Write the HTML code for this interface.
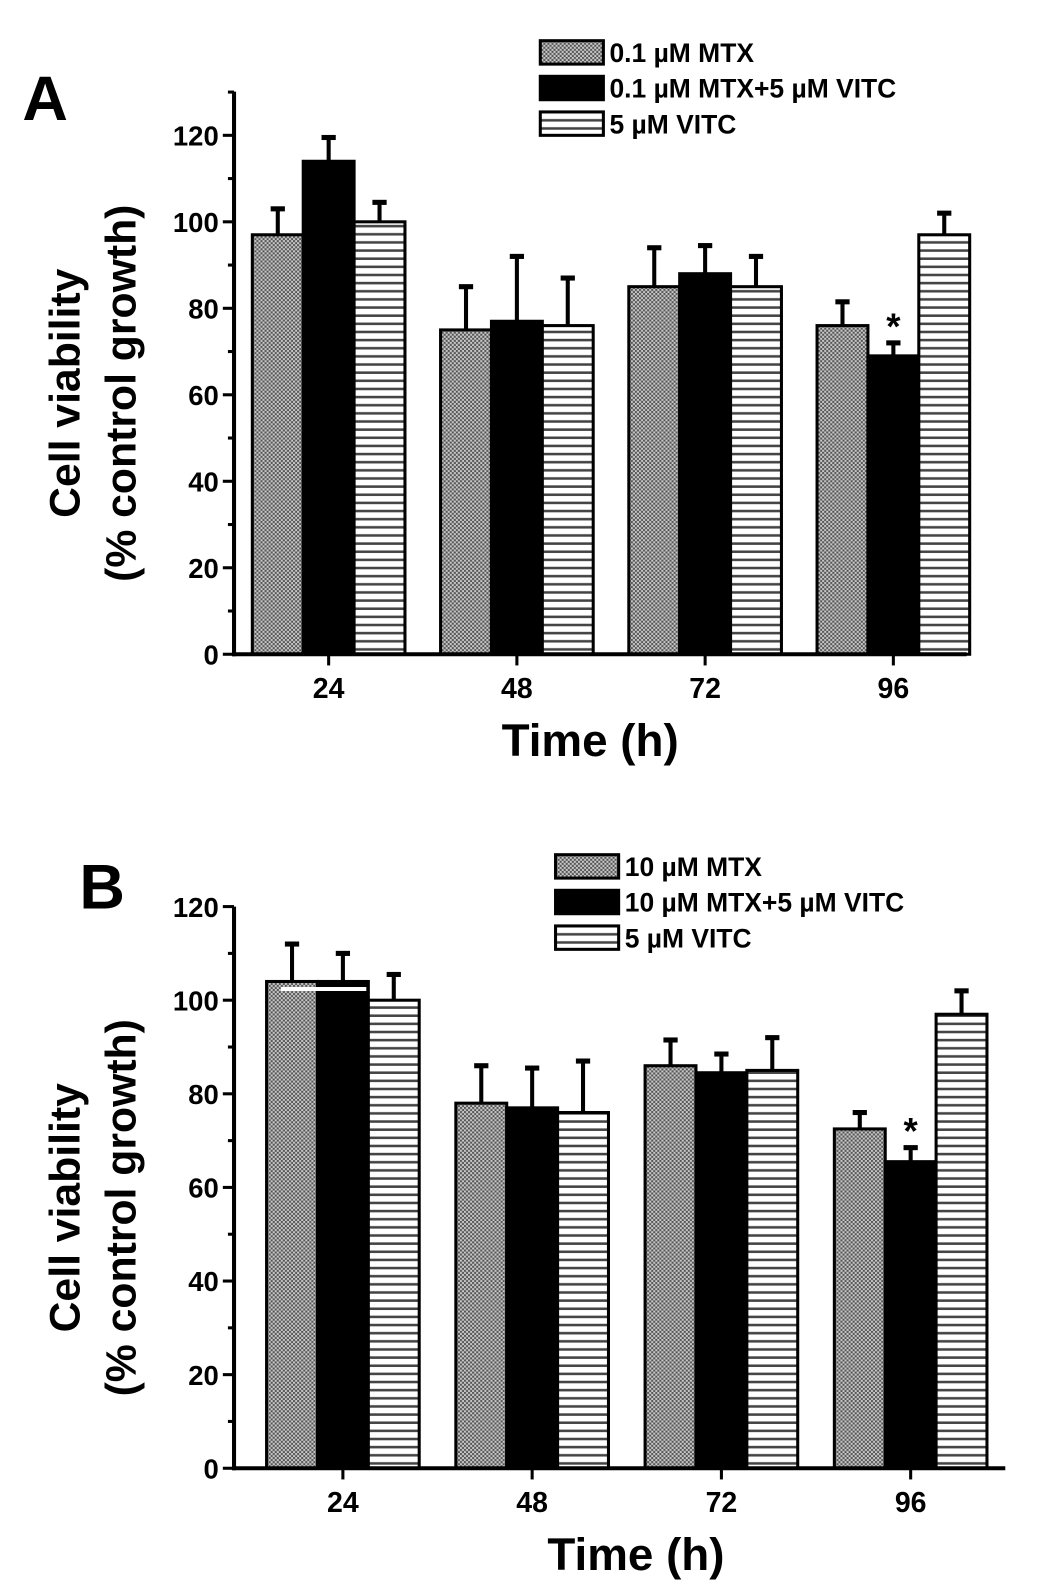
<!DOCTYPE html>
<html><head><meta charset="utf-8"><style>
body{margin:0;background:#fff}
svg{display:block;font-family:"Liberation Sans",Arial,sans-serif;font-weight:bold}
</style></head><body>
<svg id="chart" width="1042" height="1596" viewBox="0 0 1042 1596" xmlns="http://www.w3.org/2000/svg">
<defs>
<pattern id="dots" width="4" height="4" patternUnits="userSpaceOnUse"><rect width="4" height="4" fill="#c8c8c8"/><rect width="2" height="2" fill="#555"/><rect x="2" y="2" width="2" height="2" fill="#555"/></pattern>
<pattern id="stripes" width="8" height="8" patternUnits="userSpaceOnUse"><rect width="8" height="8" fill="#fff"/><rect y="5" width="8" height="2.5" fill="#444"/></pattern>
</defs>
<g transform="scale(1.0175)">
<g id="panelA"></g>
<g id="panelB"></g>
</g>
</svg>
<script>
const categories = ["24","48","72","96"];
const yTicks = [0,20,40,60,80,100,120];
const aMTX = [97,75,85,76];
const aMTXerr = [6,10,9,5.5];
const aCombo = [114,77,88,69];
const aComboErr = [5.5,15,6.5,3];
const aVITC = [100,76,85,97];
const aVITCerr = [4.5,11,7,5];
const aLegend = ["0.1 µM MTX","0.1 µM MTX+5 µM VITC","5 µM VITC"];
const bMTX = [104,78,86,72.5];
const bMTXerr = [8,8,5.5,3.5];
const bCombo = [104,77,84.5,65.5];
const bComboErr = [6,8.5,4,3];
const bVITC = [100,76,85,97];
const bVITCerr = [5.5,11,7,5];
const bLegend = ["10 µM MTX","10 µM MTX+5 µM VITC","5 µM VITC"];
const NS="http://www.w3.org/2000/svg";
function mk(parent,tag,attrs,text){const e=document.createElementNS(NS,tag);for(const k in attrs)e.setAttribute(k,attrs[k]);if(text!==undefined)e.textContent=text;parent.appendChild(e);return e;}
const fills=["url(#dots)","#000","url(#stripes)"];
function panel(g,cfg){
  const y=v=>cfg.y0-(v/cfg.yMax)*(cfg.y0-cfg.yTop);
  const x=(i,s)=>cfg.xStart+i*cfg.groupStep+s*cfg.barW;
  const series=[[cfg.s1,cfg.e1],[cfg.s2,cfg.e2],[cfg.s3,cfg.e3]];
  series.forEach((ser,s)=>{
    categories.forEach((c,i)=>{
      const v=ser[0][i],e=ser[1][i];
      const bx=x(i,s),top=y(v),et=y(v+e);
      const ln=mk(g,'line',{x1:bx+cfg.barW/2,x2:bx+cfg.barW/2,y1:top,y2:et,stroke:'#000','stroke-width':4});
      
      
      const cap=mk(g,'line',{x1:bx+cfg.barW/2-7,x2:bx+cfg.barW/2+7,y1:et,y2:et,stroke:'#000','stroke-width':5});
      
      
      const r=mk(g,'rect',{x:bx,y:top,width:cfg.barW,height:cfg.y0-top,fill:fills[s],stroke:'#000','stroke-width':3});
      
      
    });
  });
  const st=mk(g,'text',{x:x(3,1)+cfg.barW/2,y:y(cfg.s2[3]+cfg.e2[3])-4,'font-size':36,'text-anchor':'middle'},'*');
  
  
  const ya=mk(g,'line',{x1:cfg.axX,x2:cfg.axX,y1:cfg.y0+2,y2:cfg.axTop,stroke:'#000','stroke-width':4});
  
  
  const xa=mk(g,'line',{x1:cfg.axX-2,x2:cfg.axRight,y1:cfg.y0,y2:cfg.y0,stroke:'#000','stroke-width':4});
  
  
  for(let v=0;v<=cfg.axMaxVal;v+=10){
    const major=v%20===0;
    mk(g,'line',{x1:cfg.axX-(major?11:6),x2:cfg.axX,y1:y(v),y2:y(v),stroke:'#000','stroke-width':3});
  }
  yTicks.forEach(v=>{
    const t=mk(g,'text',{x:cfg.axX-15,y:y(v)+10,'font-size':27,'text-anchor':'end'},v);
    
    
  });
  categories.forEach((c,i)=>{
    const cx=x(i,1)+cfg.barW/2;
    mk(g,'line',{x1:cx,x2:cx,y1:cfg.y0,y2:cfg.y0+11,stroke:'#000','stroke-width':3});
    const t=mk(g,'text',{x:cx,y:cfg.y0+43,'font-size':28,'text-anchor':'middle'},c);
    
    
  });
  const xt=mk(g,'text',{x:cfg.xTitleX,y:cfg.y0+100,'font-size':45,'text-anchor':'middle'},'Time (h)');
  
  
  const yc=(cfg.y0+cfg.axTop)/2+20;
  const y1=mk(g,'text',{x:0,y:0,'font-size':42,'text-anchor':'middle',transform:`translate(78,${yc}) rotate(-90)`},'Cell viability');
  
  
  const y2=mk(g,'text',{x:0,y:0,'font-size':42,'text-anchor':'middle',transform:`translate(133,${yc}) rotate(-90)`},'(% control growth)');
  
  
  const pl=mk(g,'text',{x:cfg.letterX,y:cfg.letterY,'font-size':62},cfg.letter);
  
  
  cfg.legend.forEach((lab,k)=>{
    const ly=cfg.legY+k*cfg.legStep;
    const r=mk(g,'rect',{x:cfg.legX,y:ly,width:62,height:23,fill:fills[k],stroke:'#000','stroke-width':3});
    
    
    const t=mk(g,'text',{x:cfg.legX+68,y:ly+21,'font-size':26},lab);
    
    
  });
}
panel(document.getElementById('panelA'),{y0:643,yTop:133,yMax:120,axTop:90,axMaxVal:130,axX:230,axRight:950,xStart:248,groupStep:185,barW:50,
  s1:aMTX,e1:aMTXerr,s2:aCombo,e2:aComboErr,s3:aVITC,e3:aVITCerr,legend:aLegend,legX:531,legY:40,legStep:35,letter:'A',letterX:22,letterY:118,xTitleX:580});
panel(document.getElementById('panelB'),{y0:1443,yTop:891,yMax:120,axTop:891,axMaxVal:120,axX:230,axRight:988,xStart:262,groupStep:186,barW:50,
  s1:bMTX,e1:bMTXerr,s2:bCombo,e2:bComboErr,s3:bVITC,e3:bVITCerr,legend:bLegend,legX:546,legY:840,legStep:35,letter:'B',letterX:78,letterY:893,xTitleX:625});
const wl=mk(document.getElementById('panelB'),'line',{x1:276,x2:360,y1:972,y2:972,stroke:'#fff','stroke-width':4});


</script>
</body></html>
